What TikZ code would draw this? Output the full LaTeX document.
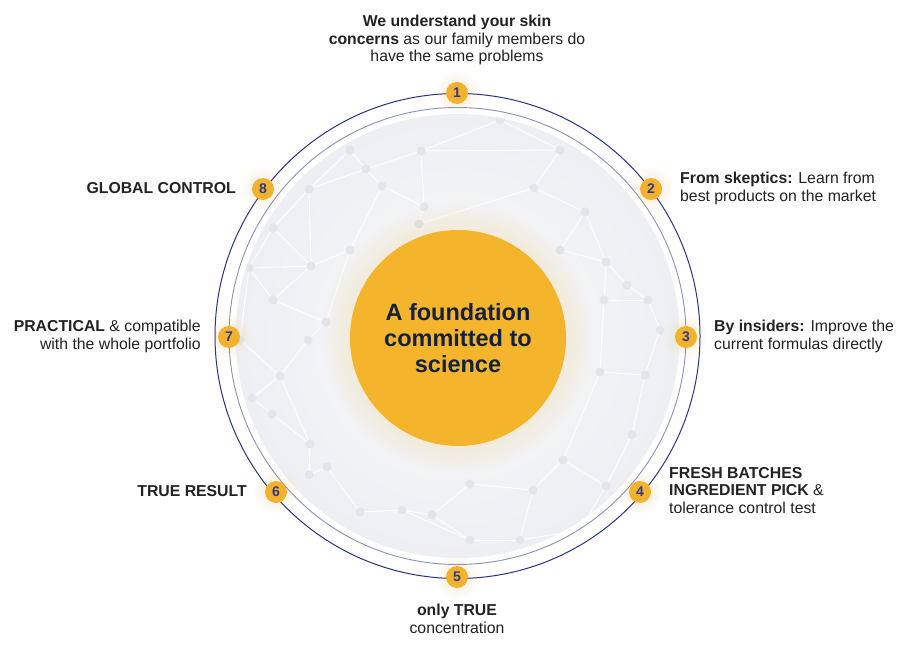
\documentclass[tikz,border=0pt]{standalone}
\usepackage{fontspec}
\setmainfont{Liberation Sans}
\definecolor{navy}{HTML}{283583}
\definecolor{ringlight}{HTML}{8A90B8}
\definecolor{gold}{HTML}{F4B42C}
\definecolor{badgegold}{HTML}{F3B22D}
\definecolor{numnavy}{HTML}{2D3A8C}
\definecolor{centertext}{HTML}{14213D}
\definecolor{labeltext}{HTML}{222222}
\definecolor{diskin}{HTML}{F8F9FA}
\definecolor{diskout}{HTML}{EDEFF2}
\definecolor{dotgray}{HTML}{E2E5E9}
\begin{document}
\begin{tikzpicture}[x=1pt,y=-1pt,
  badge/.style={circle,fill=badgegold,minimum size=22pt,inner sep=0pt,
    text=numnavy,font=\fontsize{14}{14}\selectfont\bfseries},
  lbl/.style={inner sep=0pt,text=labeltext,font=\fontsize{15.8}{17.6}\selectfont},
  netline/.style={white,line width=0.9pt,opacity=0.9},
  netdot/.style={fill=dotgray}
]
\useasboundingbox (0,0) rectangle (915,652);
\fill[white] (0,0) rectangle (915,652);
\coordinate (c) at (457.5,336);

% gray disk
\shade[inner color=diskin,outer color=diskout] (c) circle (222pt);

% network
\begin{scope}
\clip (c) circle (222pt);
\foreach \n/\x/\y in {1/350/150,2/421/151,3/366/169,4/382/186,5/309/189,6/424/207,
  7/419/224,8/273/228,9/534/188,10/585/212,11/560/150,12/606/262,13/627/285,
  14/648/300,15/604/300,16/645/375,17/600/372,18/632/435,19/606/486,20/563/460,
  21/533/490,22/470/484,23/432/515,24/402/510,25/360/512,26/327/467,27/309/475,
  28/310/444,29/272/414,30/252/398,31/280/376,32/308/340,33/326/322,34/273/300,
  35/311/266,36/249/268,37/470/540,38/520/540,39/580/530,40/660/330,41/500/120,
  42/240/340,43/560/250,44/350/250}
  \coordinate (n\n) at (\x,\y);
\foreach \a/\b in {1/3,2/3,3/4,1/5,5/3,4/6,6/7,2/6,5/8,8/36,36/35,35/5,35/34,
  34/33,33/32,32/31,31/30,30/29,29/28,28/27,27/26,26/25,25/24,24/23,23/22,22/21,
  21/20,20/19,19/18,18/16,16/17,16/40,40/14,14/13,13/12,12/15,15/14,12/10,10/9,
  9/11,11/2,9/7,41/2,41/11,10/43,43/12,35/44,44/4,44/33,36/42,42/31,34/36,23/37,
  37/38,38/21,38/39,39/19,20/17,17/15,8/35,28/31,24/37}
  \draw[netline] (n\a) -- (n\b);
\foreach \n in {1,...,44}
  \fill[netdot] (n\n) circle (4.5pt);
\end{scope}

% rings
\draw[ringlight,line width=0.9pt] (c) circle (228.5pt);
\draw[navy,line width=1pt] (c) circle (242.5pt);

% center glow
\foreach \r in {108,111,...,135}
  \fill[gold,opacity=0.012] (458,338) circle (\r pt);

% center
\node[circle,fill=gold,minimum size=216pt,inner sep=0pt,text=centertext,
  align=center,font=\fontsize{23.5}{26}\selectfont\bfseries] (center) at (458,338)
  {A foundation\\committed to\\science};

% badge glows
\foreach \x/\y in {457/93,651/189,686/337,640/492,457/577,276/492,229/337,263/189}
  \foreach \r in {12,14,...,22}
    \fill[badgegold,opacity=0.015] (\x,\y) circle (\r pt);

% badges
\node[badge] (b1) at (457,93) {1};
\node[badge] (b2) at (651,189) {2};
\node[badge] (b3) at (686,337) {3};
\node[badge] (b4) at (640,492) {4};
\node[badge] (b5) at (457,577) {5};
\node[badge] (b6) at (276,492) {6};
\node[badge] (b7) at (229,337) {7};
\node[badge] (b8) at (263,189) {8};

% labels
\node[lbl,align=center] (l1) at (457,40)
  {\textbf{We understand your skin}\\\textbf{concerns} as our family members do\\have the same problems};
\node[lbl,align=left,anchor=west] (l2) at (680,188.5)
  {\textbf{From skeptics:} Learn from\\best products on the market};
\node[lbl,align=left,anchor=west] (l3) at (714,336.5)
  {\textbf{By insiders:} Improve the\\current formulas directly};
\node[lbl,align=left,anchor=west] (l4) at (669,490.5)
  {\textbf{FRESH BATCHES}\\\textbf{INGREDIENT PICK} \&\\tolerance control test};
\node[lbl,align=center] (l5) at (457,619)
  {\textbf{only TRUE}\\concentration};
\node[lbl,anchor=east] (l6) at (247,491) {\textbf{TRUE RESULT}};
\node[lbl,align=right,anchor=east] (l7) at (201,336.5)
  {\textbf{PRACTICAL} \& compatible\\with the whole portfolio};
\node[lbl,anchor=east] (l8) at (236,188) {\textbf{GLOBAL CONTROL}};
\end{tikzpicture}
\end{document}
